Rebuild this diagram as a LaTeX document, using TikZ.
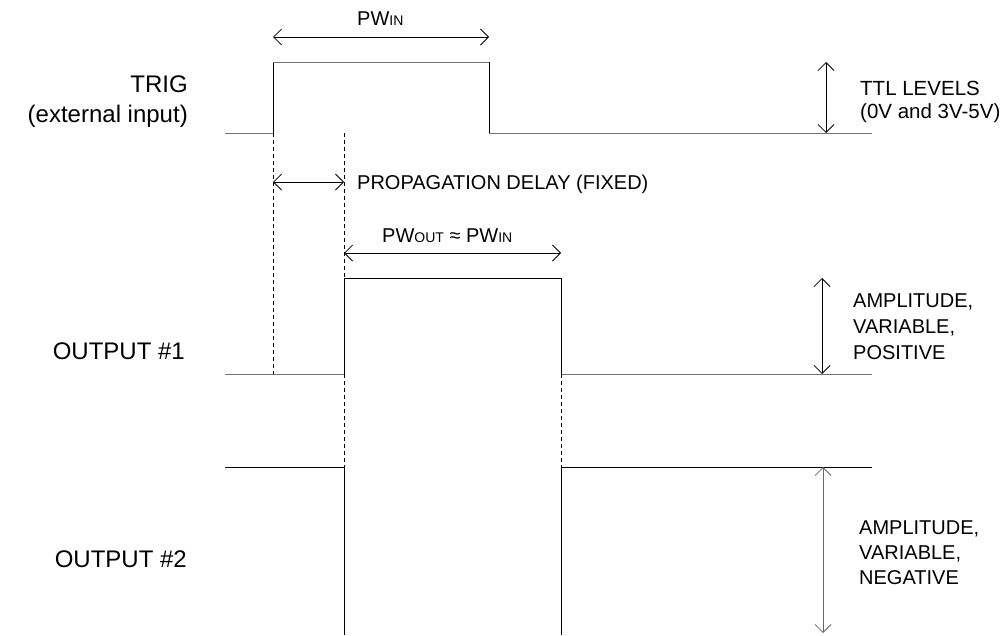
\documentclass[tikz,border=0pt]{standalone}
\usepackage{fontspec}
\setmainfont{Liberation Sans}
\usetikzlibrary{arrows.meta}

\tikzset{
  lvl/.style={draw=black!55, line width=1pt},
  edgeline/.style={draw=black, line width=1pt},
  guide/.style={draw=black, line width=0.8pt, dash pattern=on 4pt off 3pt},
  dim/.style={draw=black, line width=0.8pt,
    {Straight Barb[length=8pt,width=16pt]}-{Straight Barb[length=8pt,width=16pt]}},
  lbl/.style={inner sep=0pt, font=\fontsize{20}{24}\selectfont},
  ttllbl/.style={inner sep=0pt, font=\fontsize{20.5}{24}\selectfont},
  biglbl/.style={inner sep=0pt, font=\fontsize{24}{28}\selectfont},
}
\newcommand{\pwsub}[1]{{\fontsize{14}{14}\selectfont #1}}

\begin{document}
\begin{tikzpicture}[x=1pt,y=-1pt]
  \useasboundingbox (0,0) rectangle (1008,635);

  % trigger input
  \coordinate (t0) at (225,133);
  \coordinate (t1) at (273,133);
  \coordinate (t2) at (273,62);
  \coordinate (t3) at (489,62);
  \coordinate (t4) at (489,133);
  \coordinate (t5) at (872,133);

  % output 1, positive
  \coordinate (a0) at (225,374);
  \coordinate (a1) at (344,374);
  \coordinate (a2) at (344,278);
  \coordinate (a3) at (561,278);
  \coordinate (a4) at (561,374);
  \coordinate (a5) at (872,374);

  % output 2, negative
  \coordinate (b0) at (225,467);
  \coordinate (b1) at (344,467);
  \coordinate (b2) at (344,635);
  \coordinate (b3) at (561,635);
  \coordinate (b4) at (561,467);
  \coordinate (b5) at (872,467);

  \draw[lvl] (t0) -- (t1);
  \draw[edgeline] (t1) -- (t2);
  \draw[lvl] (t2) -- (t3);
  \draw[edgeline] (t3) -- (t4);
  \draw[lvl] (t4) -- (t5);

  \draw[lvl] (a0) -- (a1);
  \draw[edgeline] (a1) -- (a2) -- (a3) -- (a4);
  \draw[lvl] (a4) -- (a5);

  \draw[edgeline] (b0) -- (b1) -- (b2);
  \draw[edgeline] (b3) -- (b4) -- (b5);

  % guide lines
  \coordinate (g1) at (273,374);
  \coordinate (g2) at (344,133);
  \draw[guide] (t1) -- (g1);
  \draw[guide] (g2) -- (a1);
  \draw[guide] (a1) -- (b1);
  \draw[guide] (a4) -- (b4);

  % dimension arrows
  \coordinate (pwinL) at (273,37);
  \coordinate (pwinR) at (489,37);
  \coordinate (delL)  at (273,182);
  \coordinate (delR)  at (344,182);
  \coordinate (pwoL)  at (344,253);
  \coordinate (pwoR)  at (561,253);
  \coordinate (ttlT)  at (826,62);
  \coordinate (ttlB)  at (826,133);
  \coordinate (posT)  at (822,278);
  \coordinate (posB)  at (822,374);
  \coordinate (negT)  at (823,467);
  \coordinate (negB)  at (823,633);

  \draw[dim] (pwinL) -- (pwinR);
  \draw[dim] (delL) -- (delR);
  \draw[dim] (pwoL) -- (pwoR);
  \draw[dim] (ttlT) -- (ttlB);
  \draw[dim] (posT) -- (posB);
  \draw[dim, draw=black!60] (negT) -- (negB);

  % labels
  \node[lbl, anchor=base west] (pwin) at (357,25) {PW\pwsub{IN}};
  \node[lbl, anchor=base west] (delay) at (357,189) {PROPAGATION DELAY (FIXED)};
  \node[lbl, anchor=base west] (pwout) at (382,242) {PW\pwsub{OUT} ≈ PW\pwsub{IN}};

  \node[biglbl, anchor=base east] (trig) at (188,92) {TRIG};
  \node[biglbl, anchor=base east] (trigsub) at (188,122) {(external input)};
  \node[biglbl, anchor=base east] (out1) at (185,359) {OUTPUT \#1};
  \node[biglbl, anchor=base east] (out2) at (187,567) {OUTPUT \#2};

  \node[ttllbl, anchor=base west] (ttl1) at (860,95) {TTL LEVELS};
  \node[ttllbl, anchor=base west] (ttl2) at (860,118) {(0V and 3V-5V)};

  \node[lbl, anchor=base west] (pos1) at (853,307) {AMPLITUDE,};
  \node[lbl, anchor=base west] (pos2) at (853,333) {VARIABLE,};
  \node[lbl, anchor=base west] (pos3) at (853,359) {POSITIVE};

  \node[lbl, anchor=base west] (neg1) at (859,534) {AMPLITUDE,};
  \node[lbl, anchor=base west] (neg2) at (859,559) {VARIABLE,};
  \node[lbl, anchor=base west] (neg3) at (859,584) {NEGATIVE};
\end{tikzpicture}
\end{document}
